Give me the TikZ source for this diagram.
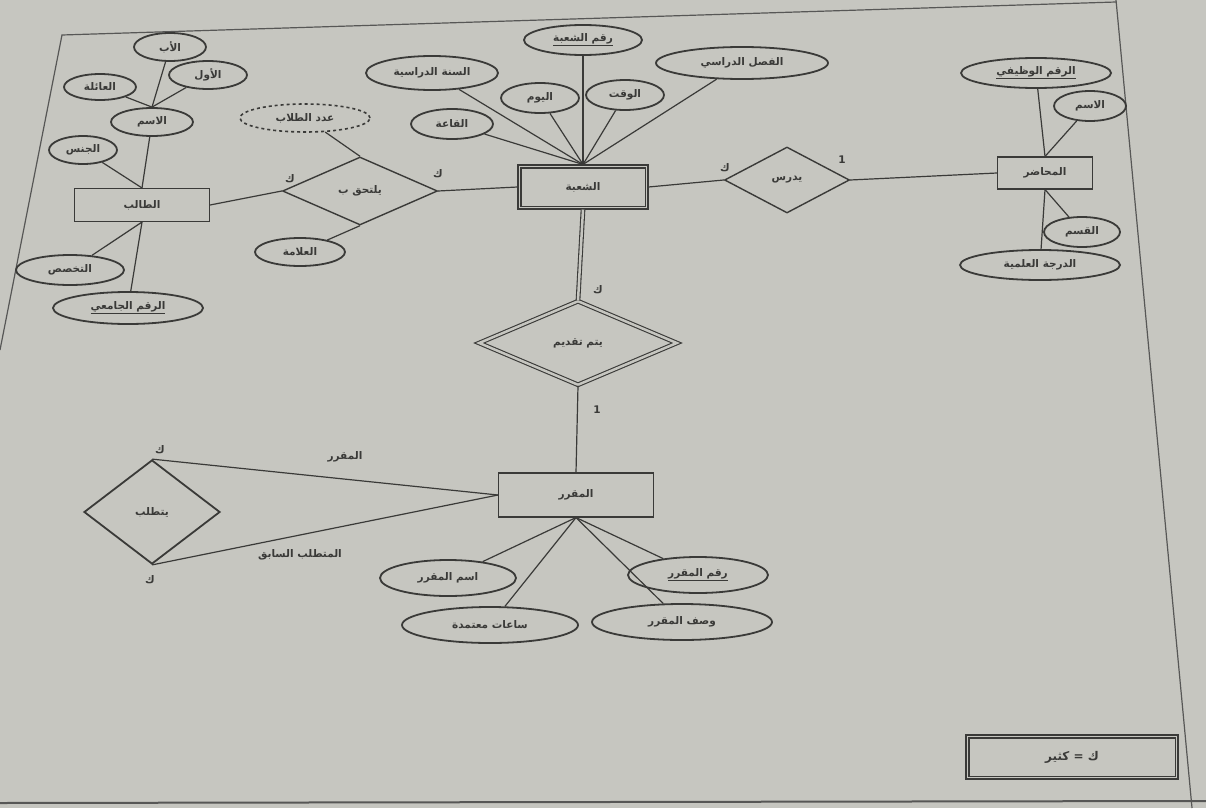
\documentclass[tikz,border=0pt]{standalone}
\usepackage{fontspec}
\newfontfamily\arabicfont[Script=Arabic]{DejaVu Sans}
\TeXXeTstate=1
\usepackage{tikz}
\usetikzlibrary{shapes.geometric,positioning}
\definecolor{paper}{RGB}{198,198,192}
\definecolor{ink}{RGB}{58,58,56}
\newcommand{\artext}[1]{\beginR #1\endR}

\begin{document}
\begin{tikzpicture}[x=1pt, y=-1pt,
    every node/.style={font=\arabicfont\fontsize{10.5}{12}\selectfont\bfseries, text=ink},
    entity/.style={draw=ink, line width=1.1pt, rectangle, inner sep=2pt},
    attrib/.style={draw=ink, line width=1.8pt, ellipse, inner sep=1pt},
    derivedattrib/.style={draw=ink, line width=1.6pt, dashed, ellipse, inner sep=1pt},
    relation/.style={draw=ink, line width=1.4pt, diamond, inner sep=0pt},
    identrel/.style={relation, line width=1.1pt, double=paper, double distance=2.5pt},
    card/.style={inner sep=1pt},
    rolelabel/.style={inner sep=1pt},
    link/.style={draw=ink, line width=1.2pt}
  ]

  % Fond et cadre de la feuille
  \fill[paper] (0,0) rectangle (1206,808);
  \useasboundingbox (0,0) rectangle (1206,808);
  \draw[ink!85, line width=1.2pt] (0,350) -- (62,35) -- (1116,2);
  \draw[ink!85, line width=1.2pt] (1116,0) -- (1192,808);
  \draw[ink!85, line width=2pt] (0,803) -- (1206,801);

  % Entité étudiant et ses attributs
  \node[entity, minimum width=135, minimum height=33] (student) at (142,205) {\artext{الطالب}};
  \node[attrib, minimum width=82, minimum height=28] (sname) at (152,122) {\artext{الاسم}};
  \node[attrib, minimum width=72, minimum height=28] (father) at (170,47) {\artext{الأب}};
  \node[attrib, minimum width=78, minimum height=28] (first) at (208,75) {\artext{الأول}};
  \node[attrib, minimum width=72, minimum height=26] (family) at (100,87) {\artext{العائلة}};
  \node[attrib, minimum width=68, minimum height=28] (gender) at (83,150) {\artext{الجنس}};
  \node[attrib, minimum width=108, minimum height=30] (major) at (70,270) {\artext{التخصص}};
  \node[attrib, minimum width=150, minimum height=32] (stuid) at (128,308) {\underline{\artext{الرقم الجامعي}}};

  \draw[link] (father) -- (sname.north);
  \draw[link] (first) -- (sname.north);
  \draw[link] (family) -- (sname.north);
  \draw[link] (sname) -- (student.north);
  \draw[link] (gender) -- (student.north);
  \draw[link] (student.south) -- (major);
  \draw[link] (student.south) -- (stuid);

  % Relation يلتحق ب
  \node[relation, minimum width=155, minimum height=68] (enroll) at (360,191) {\artext{يلتحق ب}};
  \node[derivedattrib, minimum width=130, minimum height=28] (count) at (305,118) {\artext{عدد الطلاب}};
  \node[attrib, minimum width=90, minimum height=28] (grade) at (300,252) {\artext{العلامة}};
  \draw[link] (count) -- (enroll.north);
  \draw[link] (grade) -- (enroll.south);

  % Entité faible الشعبة
  \node[entity, minimum width=130, minimum height=44] (section) at (583,187) {\artext{الشعبة}};
  \draw[ink, line width=1.1pt] ([xshift=3.5pt,yshift=-3.5pt]section.north west) rectangle ([xshift=-3.5pt,yshift=3.5pt]section.south east);
  \node[attrib, minimum width=118, minimum height=30] (secno) at (583,40) {\underline{\artext{رقم الشعبة}}};
  \node[attrib, minimum width=132, minimum height=34] (year) at (432,73) {\artext{السنة الدراسية}};
  \node[attrib, minimum width=172, minimum height=32] (term) at (742,63) {\artext{الفصل الدراسي}};
  \node[attrib, minimum width=78, minimum height=30] (day) at (540,98) {\artext{اليوم}};
  \node[attrib, minimum width=78, minimum height=30] (time) at (625,95) {\artext{الوقت}};
  \node[attrib, minimum width=82, minimum height=30] (room) at (452,124) {\artext{القاعة}};
  \foreach \a in {secno,year,term,day,time,room}
    \draw[link] (\a) -- (section.north);

  \draw[link] (student.east) -- (enroll.west);
  \draw[link] (enroll.east) -- (section.west);
  \node[card] (c1) at (290,179) {\artext{ك}};
  \node[card] (c2) at (438,174) {\artext{ك}};

  % Relation يدرس et entité المحاضر
  \node[relation, minimum width=125, minimum height=66] (teaches) at (787,180) {\artext{يدرس}};
  \node[entity, minimum width=95, minimum height=32] (lecturer) at (1045,173) {\artext{المحاضر}};
  \node[attrib, minimum width=150, minimum height=30] (empno) at (1036,73) {\underline{\artext{الرقم الوظيفي}}};
  \node[attrib, minimum width=72, minimum height=30] (lname) at (1090,106) {\artext{الاسم}};
  \node[attrib, minimum width=76, minimum height=30] (dept) at (1082,232) {\artext{القسم}};
  \node[attrib, minimum width=160, minimum height=30] (degree) at (1040,265) {\artext{الدرجة العلمية}};
  \draw[link] (section.east) -- (teaches.west);
  \draw[link] (teaches.east) -- (lecturer.west);
  \draw[link] (empno) -- (lecturer.north);
  \draw[link] (lname) -- (lecturer.north);
  \draw[link] (lecturer.south) -- (dept);
  \draw[link] (lecturer.south) -- (degree);
  \node[card] (c3) at (725,168) {\artext{ك}};
  \node[card] (c4) at (842,160) {1};

  % Relation d'identification يتم تقديم
  \node[identrel, minimum width=198, minimum height=84] (offered) at (578,343) {\artext{يتم تقديم}};
  \draw[link, line width=1.1pt, double=paper, double distance=2.5pt] (section.south) -- (offered.north);
  \node[card] (c5) at (598,290) {\artext{ك}};

  % Entité المقرر
  \node[entity, minimum width=155, minimum height=44] (course) at (576,495) {\artext{المقرر}};
  \draw[link] (offered.south) -- (course.north);
  \node[card] (c6) at (597,410) {1};
  \node[attrib, minimum width=136, minimum height=36] (cname) at (448,578) {\artext{اسم المقرر}};
  \node[attrib, minimum width=176, minimum height=36] (hours) at (490,625) {\artext{ساعات معتمدة}};
  \node[attrib, minimum width=140, minimum height=36] (cno) at (698,575) {\underline{\artext{رقم المقرر}}};
  \node[attrib, minimum width=180, minimum height=36] (cdesc) at (682,622) {\artext{وصف المقرر}};
  \foreach \a in {cname,hours,cno,cdesc}
    \draw[link] (course.south) -- (\a);

  % Relation récursive يتطلب
  \node[relation, line width=1.8pt, minimum width=136, minimum height=104] (requires) at (152,512) {\artext{يتطلب}};
  \draw[link] (course.west) -- (requires.north);
  \draw[link] (course.west) -- (requires.south);
  \node[rolelabel] (role1) at (345,457) {\artext{المقرر}};
  \node[rolelabel] (role2) at (300,555) {\artext{المتطلب السابق}};
  \node[card] (c7) at (160,450) {\artext{ك}};
  \node[card] (c8) at (150,580) {\artext{ك}};

  % Légende
  \node[entity, minimum width=212, minimum height=44,
        font=\arabicfont\fontsize{12}{14}\selectfont\bfseries] (legend) at (1072,757) {\artext{ك = كثير}};
  \draw[ink, line width=1.1pt] ([xshift=3.5pt,yshift=-3.5pt]legend.north west) rectangle ([xshift=-3.5pt,yshift=3.5pt]legend.south east);
\end{tikzpicture}
\end{document}
